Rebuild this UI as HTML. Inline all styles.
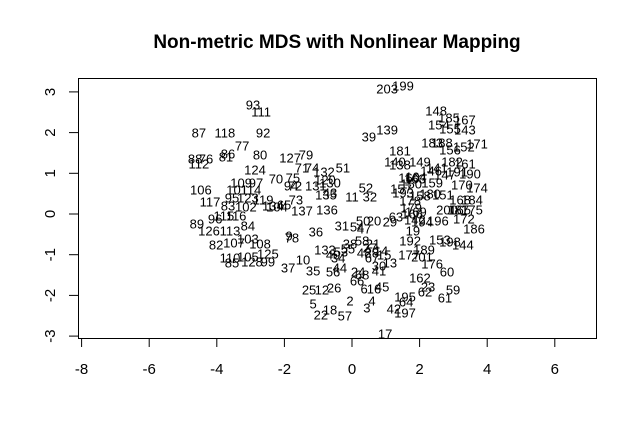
<!DOCTYPE html>
<html><head><meta charset="utf-8"><style>
body{margin:0;background:#fff}
svg text{font-family:"Liberation Sans",sans-serif}
</style></head><body>
<svg id="chart" width="637" height="436" xmlns="http://www.w3.org/2000/svg">
<text x="337" y="48" text-anchor="middle" font-size="19" font-weight="bold">Non-metric MDS with Nonlinear Mapping</text>
<rect x="78.5" y="78.5" width="518" height="260" fill="none" stroke="#000" stroke-width="1"/>
<g id="xaxis"></g>
<g id="yaxis"></g>
<g id="pts"></g>
</svg>
<script>
const labels=["93","111","87","118","92","77","86","81","88","76","112","80","127","79","71","74","132","51","124","70","75","109","97","106","101","114","94","72","131","120","130","117","95","123","83","102","119","104","134","65","73","137","136","135","43","11","32","52","96","116","115","89","126","113","84","82","107","103","108","110","85","128","105","125","99","78","9","36","37","10","35","31","54","47","133","38","53","55","34","40","56","44","24","25","12","26","2","5","22","18","57","50","20","29","63","21","27","58","48","28","67","14","15","13","30","41","68","66","6","16","45","4","3","42","197","195","64","62","162","23","61","59","60","176","177","201","189","192","19","153","198","144","186","17","203","199","148","185","167","154","155","143","39","139","181","183","188","156","152","171","149","140","138","182","141","191","190","146","161","147","164","160","163","150","159","170","174","157","193","151","180","158","168","184","178","179","169","166","200","187","165","175","172","194","196","142"];
const xs=[-2.93,-2.69,-4.53,-3.76,-2.63,-3.25,-3.67,-3.73,-4.64,-4.32,-4.53,-2.72,-1.83,-1.36,-1.48,-1.18,-0.83,-0.27,-2.87,-2.25,-1.75,-3.28,-2.84,-4.47,-3.40,-2.99,-1.80,-1.69,-1.07,-0.80,-0.65,-4.20,-3.55,-3.08,-3.67,-3.14,-2.63,-2.22,-2.34,-2.01,-1.66,-1.48,-0.74,-0.77,-0.65,0,0.53,0.41,-4.05,-3.43,-3.79,-4.59,-4.23,-3.61,-3.08,-4.02,-3.49,-3.08,-2.72,-3.61,-3.55,-2.96,-3.08,-2.49,-2.49,-1.78,-1.86,-1.07,-1.89,-1.45,-1.15,-0.30,0.15,0.36,-0.80,-0.06,-0.33,-0.12,-0.41,-0.56,-0.56,-0.36,0.18,-1.27,-0.89,-0.53,-0.06,-1.15,-0.92,-0.65,-0.21,0.33,0.65,1.12,1.30,0.62,0.53,0.30,0.36,0.59,0.59,0.86,0.95,1.12,0.80,0.80,0.30,0.15,0.36,0.65,0.89,0.59,0.44,1.24,1.57,1.57,1.60,2.16,2.01,2.25,2.75,2.99,2.81,2.37,1.69,2.07,2.13,1.72,1.80,2.60,2.90,3.28,3.61,0.98,1.04,1.51,2.49,2.87,3.34,2.57,2.90,3.34,0.50,1.04,1.42,2.37,2.66,2.90,3.31,3.70,2.01,1.27,1.42,2.96,2.51,3.11,3.49,2.34,3.34,2.75,1.89,1.69,1.86,1.75,2.37,3.25,3.70,1.45,1.51,2.69,2.31,2.01,3.20,3.55,1.72,1.75,1.89,1.78,2.81,3.14,3.20,3.55,3.31,2.07,2.54,1.86];
const ys=[2.68,2.51,1.99,1.99,1.99,1.67,1.47,1.40,1.35,1.35,1.23,1.45,1.38,1.45,1.13,1.13,1.03,1.13,1.08,0.86,0.88,0.76,0.76,0.59,0.59,0.59,0.69,0.69,0.69,0.84,0.76,0.29,0.39,0.39,0.20,0.17,0.34,0.17,0.20,0.22,0.34,0.07,0.10,0.47,0.52,0.42,0.42,0.64,-0.12,-0.05,-0.05,-0.25,-0.42,-0.42,-0.29,-0.76,-0.71,-0.61,-0.74,-1.08,-1.20,-1.18,-1.06,-0.98,-1.18,-0.59,-0.54,-0.44,-1.33,-1.13,-1.40,-0.29,-0.32,-0.37,-0.88,-0.74,-0.93,-0.86,-1.08,-1.01,-1.43,-1.33,-1.43,-1.87,-1.87,-1.82,-2.14,-2.21,-2.48,-2.36,-2.51,-0.17,-0.17,-0.20,-0.07,-0.74,-0.84,-0.66,-0.96,-0.96,-1.08,-0.91,-1.01,-1.20,-1.28,-1.40,-1.50,-1.65,-1.84,-1.84,-1.79,-2.14,-2.31,-2.33,-2.43,-2.04,-2.16,-1.92,-1.57,-1.79,-2.06,-1.87,-1.43,-1.23,-1.01,-1.06,-0.88,-0.66,-0.42,-0.64,-0.69,-0.76,-0.37,-2.95,3.07,3.14,2.53,2.36,2.31,2.19,2.09,2.06,1.89,2.06,1.55,1.74,1.74,1.57,1.65,1.72,1.28,1.28,1.20,1.28,1.13,1.03,0.98,1.06,1.23,0.96,0.91,0.88,0.86,0.74,0.76,0.71,0.64,0.61,0.52,0.47,0.49,0.44,0.34,0.34,0.32,0.15,0.05,0.00,0.10,0.10,0.10,0.10,-0.12,-0.20,-0.17,-0.15];
const xTicks=[-8,-6,-4,-2,0,2,4,6];
const yTicks=[-3,-2,-1,0,1,2,3];
const NS="http://www.w3.org/2000/svg";
function sx(v){return 352+v*33.8;}
function sy(v){return 214-v*40.7;}
function mk(tag,attrs,parent){const e=document.createElementNS(NS,tag);for(const k in attrs)e.setAttribute(k,attrs[k]);parent.appendChild(e);return e;}
const xa=document.getElementById('xaxis'),ya=document.getElementById('yaxis'),pg=document.getElementById('pts');
const xl=mk('line',{x1:sx(xTicks[0]),x2:sx(xTicks[xTicks.length-1]),y1:338.5,y2:338.5,stroke:'#000'},xa);


xTicks.forEach(t=>{
  const l=mk('line',{x1:sx(t),x2:sx(t),y1:338.5,y2:347,stroke:'#000'},xa);
  
  
  const tx=mk('text',{x:sx(t),y:374,'text-anchor':'middle','font-size':'15'},xa);
  tx.textContent=t;
  
  
});
const yl=mk('line',{x1:78.5,x2:78.5,y1:sy(yTicks[0]),y2:sy(yTicks[yTicks.length-1]),stroke:'#000'},ya);


yTicks.forEach(t=>{
  const l=mk('line',{x1:69,x2:78.5,y1:sy(t),y2:sy(t),stroke:'#000'},ya);
  
  
  const tx=mk('text',{x:0,y:0,'text-anchor':'middle','font-size':'15',transform:`translate(55,${sy(t)}) rotate(-90)`},ya);
  tx.textContent=t;
  
  
});
labels.forEach((lab,i)=>{
  const tx=mk('text',{x:sx(xs[i]),y:sy(ys[i])+4.5,'text-anchor':'middle','font-size':'13'},pg);
  tx.textContent=lab;
  
  
});
</script>
</body></html>
